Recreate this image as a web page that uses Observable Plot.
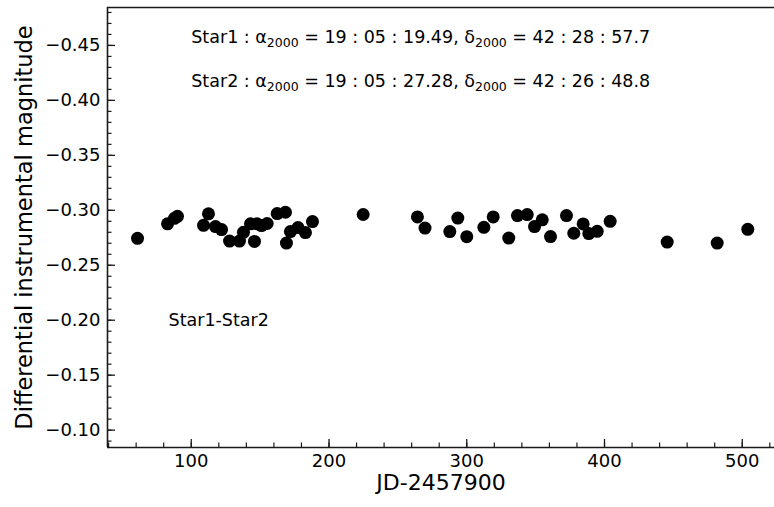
<!DOCTYPE html>
<html>
<head>
<meta charset="utf-8">
<script src="https://cdn.jsdelivr.net/npm/d3@7"></script>
<script src="https://cdn.jsdelivr.net/npm/@observablehq/plot@0.6"></script>
<style>
  html, body { margin: 0; padding: 0; background: #fff; }
  svg { display: block; }
</style>
</head>
<body>
<div id="chart"></div>
<script>
// Observation epochs (JD - 2457900) and differential magnitudes Star1 - Star2
const jd = [
  61.0, 82.8, 87.8, 90.0, 108.9, 112.5, 117.6, 122.0, 127.8, 135.0,
  137.9, 143.0, 145.9, 147.7, 151.0, 155.1, 162.4, 168.4, 169.1, 172.0,
  177.5, 182.9, 188.0, 224.8, 264.2, 269.7, 287.7, 293.5, 300.0, 312.4,
  319.2, 330.5, 336.8, 343.9, 349.2, 354.8, 360.8, 372.4, 377.7, 384.5,
  388.6, 394.7, 404.1, 445.5, 481.8, 504.0
];
const dmag = [
  -0.2745, -0.2877, -0.2927, -0.2945, -0.2863, -0.2968, -0.2852, -0.2825, -0.2720, -0.2720,
  -0.2800, -0.2877, -0.2717, -0.2877, -0.2861, -0.2880, -0.2970, -0.2982, -0.2702, -0.2806,
  -0.2843, -0.2797, -0.2897, -0.2962, -0.2940, -0.2838, -0.2806, -0.2929, -0.2760, -0.2845,
  -0.2940, -0.2747, -0.2952, -0.2961, -0.2852, -0.2913, -0.2761, -0.2952, -0.2791, -0.2876,
  -0.2788, -0.2809, -0.2900, -0.2711, -0.2702, -0.2827
];

// Axis ticks
const xTicks = [100, 200, 300, 400, 500];
const xMinorTicks = [40, 60, 80, 100, 120, 140, 160, 180, 200, 220, 240, 260, 280, 300, 320, 340, 360, 380, 400, 420, 440, 460, 480, 500, 520];
const yTicks = [-0.45, -0.40, -0.35, -0.30, -0.25, -0.20, -0.15, -0.10];
const yMinorTicks = [-0.48, -0.47, -0.46, -0.45, -0.44, -0.43, -0.42, -0.41, -0.40, -0.39, -0.38, -0.37, -0.36, -0.35, -0.34, -0.33, -0.32, -0.31, -0.30, -0.29, -0.28, -0.27, -0.26, -0.25, -0.24, -0.23, -0.22, -0.21, -0.20, -0.19, -0.18, -0.17, -0.16, -0.15, -0.14, -0.13, -0.12, -0.11, -0.10, -0.09];

// Texts
const xLabel = "JD-2457900";
const yLabel = "Differential instrumental magnitude";
const coordLines = [
  "Star1 : α_2000 = 19 : 05 : 19.49, δ_2000 = 42 : 28 : 57.7",
  "Star2 : α_2000 = 19 : 05 : 27.28, δ_2000 = 42 : 26 : 48.8"
];
const coordX = [100, 100];
const coordY = [-0.4573, -0.4172];
const pairLabel = ["Star1-Star2"];
const pairX = [83.5];
const pairY = [-0.1998];

const W = 774, H = 507;
const mL = 107, mR = 0, mT = 7, mB = 60;
const plotW = W - mL - mR, plotH = H - mT - mB;
const xDomain = [39.2, 523.4];
const yDomain = [-0.0842, -0.4845]; // magnitudes: brighter (more negative) at top

const ink = "#1a1a1a";
const points = jd.map((x, i) => ({x, y: dmag[i]}));
const coords = coordLines.map((t, i) => ({x: coordX[i], y: coordY[i], t}));
const pairs = pairLabel.map((t, i) => ({x: pairX[i], y: pairY[i], t}));

const chart = Plot.plot({
  width: W,
  height: H,
  marginLeft: mL,
  marginRight: mR,
  marginTop: mT,
  marginBottom: mB,
  style: {fontFamily: "'DejaVu Sans', sans-serif", background: "#fff", color: "#000"},
  x: {domain: xDomain},
  y: {domain: yDomain},
  marks: [
    // inward ticks along the bottom and left edges
    Plot.tickX(xMinorTicks, {x: d => d, insetTop: plotH - 4.5, stroke: ink, strokeWidth: 1.2}),
    Plot.tickX(xTicks, {x: d => d, insetTop: plotH - 8, stroke: ink, strokeWidth: 1.3}),
    Plot.tickY(yMinorTicks, {y: d => d, insetRight: plotW - 4.5, stroke: ink, strokeWidth: 1.2}),
    Plot.tickY(yTicks, {y: d => d, insetRight: plotW - 8, stroke: ink, strokeWidth: 1.3}),
    // spines
    Plot.ruleX([xDomain[0]], {stroke: ink, strokeWidth: 1.6}),
    Plot.ruleY([yDomain[0]], {stroke: ink, strokeWidth: 1.6}),
    Plot.ruleY([yDomain[1]], {stroke: ink, strokeWidth: 1.6}),
    // tick labels
    Plot.axisX({ticks: xTicks, tickSize: 0, tickPadding: 7, fontSize: 18, label: null, tickFormat: d3.format("d")}),
    Plot.axisY({ticks: yTicks, tickSize: 0, tickPadding: 7, fontSize: 18, label: null, tickFormat: d3.format(".2f")}),
    // axis titles
    Plot.text([xLabel], {text: d => d, frameAnchor: "bottom", textAnchor: "middle", dy: 42, fontSize: 22, fill: "#000"}),
    Plot.text([yLabel], {text: d => d, frameAnchor: "left", textAnchor: "middle", rotate: -90, dx: -83, fontSize: 22.5, fill: "#000"}),
    // data
    Plot.dot(points, {x: "x", y: "y", r: 6.5, fill: "#000", stroke: null}),
    // annotations
    Plot.text(coords, {x: "x", y: "y", text: "t", textAnchor: "start", fontSize: 17.5, fill: "#000"}),
    Plot.text(pairs, {x: "x", y: "y", text: "t", textAnchor: "start", fontSize: 17.5, fill: "#000"})
  ]
});

// Typeset the "_2000" subscripts as smaller, lowered text
d3.select(chart).selectAll("text").each(function () {
  const content = this.textContent;
  if (!content.includes("_2000")) return;
  const parts = content.split("_2000");
  const el = d3.select(this);
  el.text(null);
  const shift = 4;
  parts.forEach((p, i) => {
    const t = el.append("tspan").text(p);
    if (i > 0) t.attr("dy", -shift);
    if (i < parts.length - 1) {
      el.append("tspan").attr("font-size", 12.5).attr("dy", shift).text("2000");
    }
  });
});

document.getElementById("chart").appendChild(chart);
</script>
</body>
</html>
